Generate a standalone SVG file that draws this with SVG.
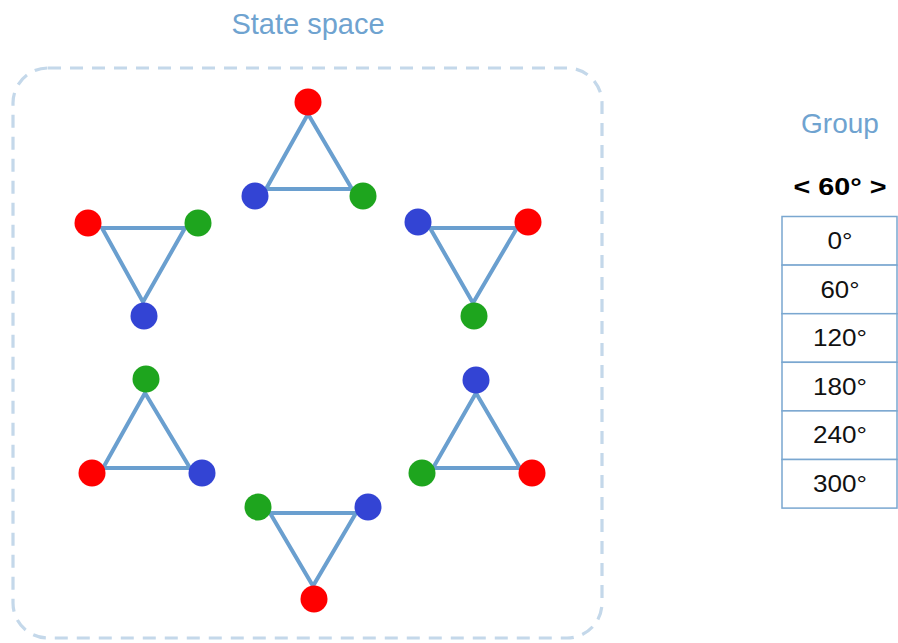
<svg xmlns="http://www.w3.org/2000/svg" width="898" height="643" viewBox="0 0 898 643">
<style>
.title{font-family:"Liberation Sans",Arial,sans-serif;fill:#6fa3d0;text-anchor:middle}
.edge{stroke:#6a9fcf;stroke-width:4;fill:none;stroke-linecap:round}
.r{fill:#ff0000}.g{fill:#1ea51e}.b{fill:#3344d4}
.cell{fill:#ffffff;stroke:#7aa7d0;stroke-width:1.5}
.ct{font-family:"Liberation Sans",Arial,sans-serif;font-size:23px;fill:#111;text-anchor:middle}
</style>
<rect width="898" height="643" fill="#ffffff"/>
<text class="title" x="308" y="34" font-size="29">State space</text>
<rect id="statespace" x="13" y="68" width="589" height="570" rx="35" ry="35" fill="none" stroke="#c4d8ea" stroke-width="3.2" stroke-dasharray="13,9"/>
<g id="connectors">
<path class="edge" d="M308,114 L266,189 L352,189 Z"/>
<path class="edge" d="M102,228 L185,228 L143,302 Z"/>
<path class="edge" d="M430,228 L517,228 L473,303 Z"/>
<path class="edge" d="M145,393 L103,468 L190,468 Z"/>
<path class="edge" d="M476,393 L433,468 L520,468 Z"/>
<path class="edge" d="M270,513 L356,513 L313,586 Z"/>
</g>
<g id="state-top"><circle class="r" cx="308" cy="102" r="13.5"/><circle class="b" cx="255" cy="196" r="13.5"/><circle class="g" cx="363" cy="196" r="13.5"/></g>
<g id="state-upper-left"><circle class="r" cx="88" cy="223" r="13.5"/><circle class="g" cx="198" cy="223" r="13.5"/><circle class="b" cx="144" cy="316" r="13.5"/></g>
<g id="state-upper-right"><circle class="b" cx="418" cy="222" r="13.5"/><circle class="r" cx="528" cy="222" r="13.5"/><circle class="g" cx="474" cy="316" r="13.5"/></g>
<g id="state-lower-left"><circle class="g" cx="146" cy="379" r="13.5"/><circle class="r" cx="92" cy="473" r="13.5"/><circle class="b" cx="202" cy="473" r="13.5"/></g>
<g id="state-lower-right"><circle class="b" cx="476" cy="380" r="13.5"/><circle class="g" cx="422" cy="473" r="13.5"/><circle class="r" cx="532" cy="473" r="13.5"/></g>
<g id="state-bottom"><circle class="g" cx="258" cy="507" r="13.5"/><circle class="b" cx="368" cy="507" r="13.5"/><circle class="r" cx="314" cy="599" r="13.5"/></g>
<g id="group">
<text class="title" x="840" y="133" font-size="28">Group</text>
<text x="840" y="195" font-family="Liberation Sans,Arial,sans-serif" font-size="23" font-weight="bold" fill="#000" text-anchor="middle" textLength="93" lengthAdjust="spacingAndGlyphs">&lt; 60° &gt;</text>
<rect class="cell" x="782" y="216.5" width="115" height="48.6"/>
<rect class="cell" x="782" y="265.1" width="115" height="48.6"/>
<rect class="cell" x="782" y="313.7" width="115" height="48.6"/>
<rect class="cell" x="782" y="362.3" width="115" height="48.6"/>
<rect class="cell" x="782" y="410.9" width="115" height="48.6"/>
<rect class="cell" x="782" y="459.5" width="115" height="48.6"/>
<text class="ct" x="840" y="249" textLength="25" lengthAdjust="spacingAndGlyphs">0°</text>
<text class="ct" x="840" y="297.6" textLength="39" lengthAdjust="spacingAndGlyphs">60°</text>
<text class="ct" x="840" y="346.2" textLength="54" lengthAdjust="spacingAndGlyphs">120°</text>
<text class="ct" x="840" y="394.8" textLength="54" lengthAdjust="spacingAndGlyphs">180°</text>
<text class="ct" x="840" y="443.4" textLength="54" lengthAdjust="spacingAndGlyphs">240°</text>
<text class="ct" x="840" y="492" textLength="54" lengthAdjust="spacingAndGlyphs">300°</text>
</g>
</svg>
